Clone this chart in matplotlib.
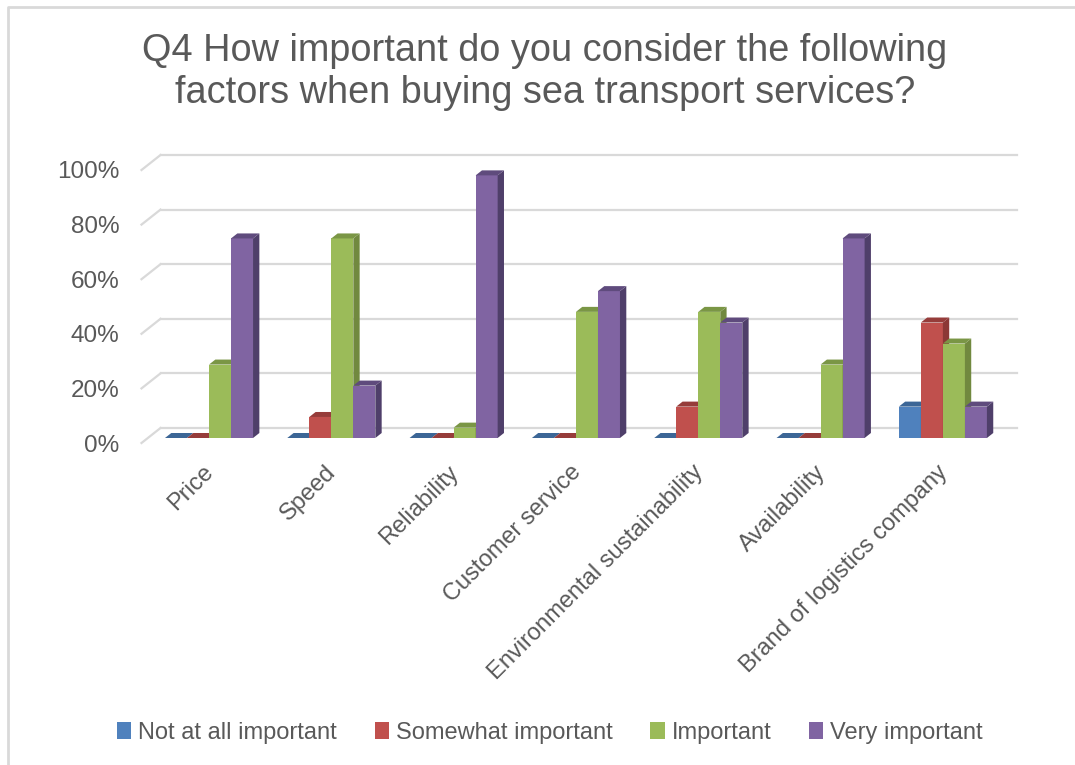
import matplotlib
matplotlib.use("Agg")
import matplotlib.pyplot as plt
from matplotlib.patches import Polygon, Patch
from matplotlib.lines import Line2D

plt.rcParams['font.family'] = ['Liberation Sans', 'DejaVu Sans']

title = "Q4 How important do you consider the following\nfactors when buying sea transport services?"
categories = ["Price", "Speed", "Reliability", "Customer service",
              "Environmental sustainability", "Availability", "Brand of logistics company"]
series_names = ["Not at all important", "Somewhat important", "Important", "Very important"]

# share of respondents (%)
not_at_all = [0, 0, 0, 0, 0, 0, 11.5]
somewhat = [0, 7.7, 0, 0, 11.5, 0, 42.3]
important = [26.9, 73.1, 3.8, 46.2, 46.2, 26.9, 34.6]
very = [73.1, 19.2, 96.2, 53.8, 42.3, 73.1, 11.5]
values = [not_at_all, somewhat, important, very]

y_ticks = [0, 20, 40, 60, 80, 100]

# front / side / top colours for each series
front_cols = ["#4F81BD", "#C0504D", "#9BBB59", "#8064A2"]
side_cols = ["#385D8A", "#8C3836", "#71893F", "#4F3F6A"]
top_cols = ["#3C6696", "#963C3A", "#7A9645", "#5F4B7D"]

text_col = "#595959"
grid_col = "#D9D9D9"

W = 1075
H = 765
fig = plt.figure(figsize=(W / 100, H / 100), dpi=100)

# chart border (only left and top are inside the picture)
fig.lines.append(Line2D([8 / W, 8 / W, 1], [0, 1 - 7 / H, 1 - 7 / H], transform=fig.transFigure,
                        color=grid_col, linewidth=2))

ax = fig.add_axes([141.5 / W, (H - 443) / H, 856.2 / W, 273 / H])
ax.set_xlim(-0.5, len(categories) - 0.5)
ax.set_ylim(0, 100)
for s in ax.spines.values():
    s.set_visible(False)

# 3d depth in data units
DX = 19 / 122.3
DY = 15 / 2.73
bw = 0.18

# back wall gridlines and floor diagonals
x_end = len(categories) - 0.5
for v in y_ticks:
    ax.plot([-0.5, -0.5 + DX], [v, v + DY], color=grid_col, lw=1.6, clip_on=False, zorder=1)
    ax.plot([-0.5 + DX, x_end + DX], [v + DY, v + DY], color=grid_col, lw=1.6, clip_on=False, zorder=1)

dx = DX / 3
dy = DY / 3
for i in range(len(categories)):
    for j in range(len(series_names)):
        v = values[j][i]
        z = 2 + i * 4 + j
        xc = i + (j - 1.5) * bw + dx
        xl = xc - bw / 2
        xr = xc + bw / 2
        if v > 0:
            ax.bar(xc, v, bottom=dy, width=bw, color=front_cols[j], zorder=z, clip_on=False)
            ax.add_patch(Polygon([(xr, dy), (xr + dx, 2 * dy), (xr + dx, 2 * dy + v), (xr, dy + v)],
                                 closed=True, facecolor=side_cols[j], edgecolor='none',
                                 zorder=z, clip_on=False))
        ax.add_patch(Polygon([(xl, dy + v), (xr, dy + v), (xr + dx, 2 * dy + v), (xl + dx, 2 * dy + v)],
                             closed=True, facecolor=top_cols[j], edgecolor='none',
                             zorder=z, clip_on=False))

ax.set_yticks(y_ticks)
ax.set_yticklabels([f"{t}%" for t in y_ticks])
ax.set_xticks(range(len(categories)))
ax.set_xticklabels(categories, rotation=45, ha='right', rotation_mode='anchor')
ax.tick_params(axis='y', length=0, pad=16, labelsize=17.5, labelcolor=text_col)
ax.tick_params(axis='x', length=0, pad=13, labelsize=17, labelcolor=text_col)

fig.text(545 / W, 1 - 72 / H, title, ha='center', va='center', fontsize=27.3,
         color=text_col, linespacing=1.2)

handles = [Patch(facecolor=c) for c in front_cols]
fig.legend(handles, series_names, loc='center', bbox_to_anchor=(550 / W, 1 - 733 / H),
           ncol=4, frameon=False, fontsize=17, labelcolor=text_col,
           handlelength=0.6, handleheight=0.75, handletextpad=0.3, columnspacing=1.6)

fig.savefig("out.png", dpi=100)
